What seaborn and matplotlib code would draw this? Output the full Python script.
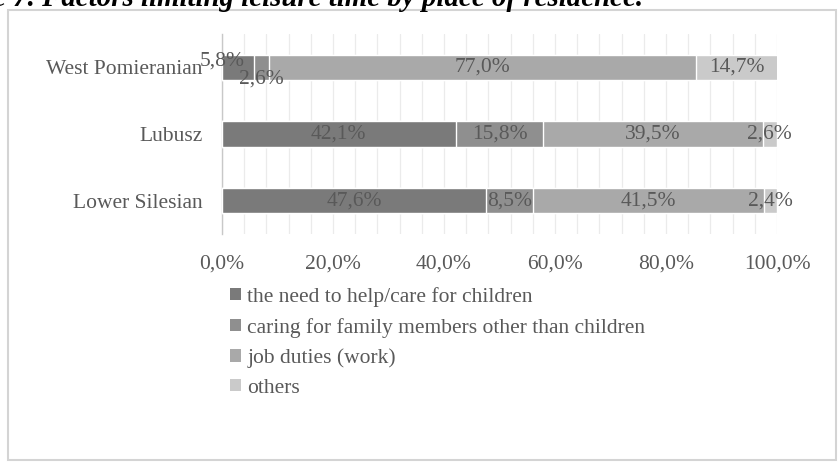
import numpy as np
import pandas as pd
import seaborn as sns
import matplotlib.pyplot as plt
from matplotlib.patches import Rectangle, Patch

# Shares of answers (%) per region
regions = ["West Pomieranian", "Lubusz", "Lower Silesian"]
children = [5.8, 42.1, 47.6]
family = [2.6, 15.8, 8.5]
work = [77.0, 39.5, 41.5]
others = [14.7, 2.6, 2.4]
series_names = [
    "the need to help/care for children",
    "caring for family members other than children",
    "job duties (work)",
    "others",
]
x_ticks = [0, 20, 40, 60, 80, 100]
title = "Figure 7. Factors limiting leisure time by place of residence."

colors = ["#7a7a7a", "#8f8f8f", "#a9a9a9", "#cacaca"]
text_color = "#595959"
FS = 15.5

sns.set_theme(style="white")
plt.rcParams["font.family"] = ["Liberation Serif", "DejaVu Serif"]

W, H = 838, 462
fig = plt.figure(figsize=(W / 100, H / 100), dpi=100)
ax = fig.add_axes([222 / W, (H - 234) / H, 555 / W, 200 / H])

values = np.array([children, family, work, others])
cum = np.cumsum(values, axis=0)
df = pd.DataFrame({"region": regions})
for i, name in enumerate(series_names):
    df[name] = cum[i]

# stacked bars: draw the running totals from the outermost segment inwards
for i in reversed(range(len(series_names))):
    sns.barplot(data=df, x=series_names[i], y="region", order=regions,
                color=colors[i], saturation=1, width=0.38, orient="h",
                errorbar=None, ax=ax, zorder=3)

ax.set_xlim(0, 100)
ax.set_ylim(2.5, -0.5)
ax.set_xticks(x_ticks)
ax.set_xticklabels([f"{t:.1f}%".replace(".", ",") for t in x_ticks])
ax.set_xticks(np.arange(0, 101, 4), minor=True)
ax.grid(which="both", axis="x", color="#ebebeb", lw=0.9)
ax.set_axisbelow(True)
ax.set_xlabel("")
ax.set_ylabel("")
for s in ["top", "right", "bottom"]:
    ax.spines[s].set_visible(False)
ax.spines["left"].set_color("#c8c8c8")
ax.spines["left"].set_linewidth(1.0)
ax.tick_params(axis="both", which="both", length=0, labelsize=FS,
               labelcolor=text_color)
ax.tick_params(axis="x", pad=14.5)
ax.tick_params(axis="y", pad=14)

# value labels centred in each segment (two crowded ones nudged aside)
nudges = {(0, 0): (-16, 6.5), (1, 0): (0, -11.5)}
for i in range(len(series_names)):
    for j in range(len(regions)):
        v = values[i][j]
        xc = cum[i][j] - v / 2
        dx, dy = nudges.get((i, j), (0, 0))
        ax.annotate(f"{v:.1f}%".replace(".", ","), (xc, j),
                    xytext=(dx * 0.72, dy * 0.72), textcoords="offset points",
                    ha="center", va="center", fontsize=FS, color=text_color,
                    zorder=5, annotation_clip=False)

handles = [Patch(facecolor=c, edgecolor="none", label=n)
           for c, n in zip(colors, series_names)]
fig.legend(handles=handles, loc="upper left",
           bbox_to_anchor=(230 / W, 1 - 287 / H), frameon=False,
           fontsize=FS, handlelength=0.5, handleheight=0.5,
           handletextpad=0.3, labelspacing=0.5, borderpad=0,
           borderaxespad=0, labelcolor=text_color)

# chart frame and caption above it
fig.patches.append(Rectangle((8 / W, 2 / H), 828 / W, 450 / H,
                             transform=fig.transFigure, fill=False,
                             edgecolor="#d4d4d4", lw=1.5))
fig.text(643 / W, 1 - 6 / H, title, ha="right", va="baseline",
         fontsize=20.8, fontweight="bold", style="italic", color="black")

fig.savefig("out.png", dpi=100)
